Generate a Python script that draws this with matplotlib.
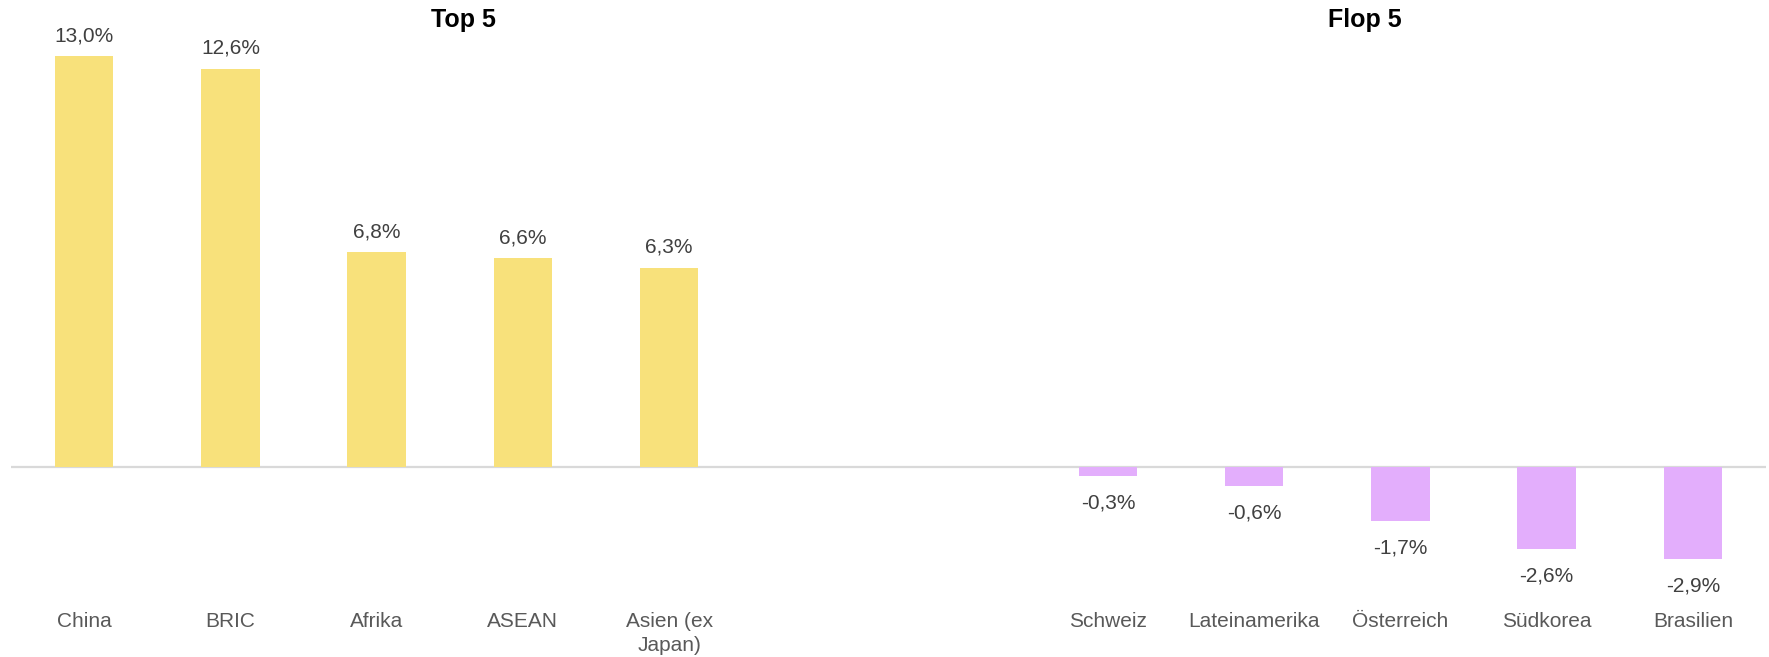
import matplotlib
matplotlib.use("Agg")
import matplotlib.pyplot as plt
import numpy as np

plt.rcParams["font.family"] = ["Liberation Sans", "DejaVu Sans"]

TOP_NAMES = ["China", "BRIC", "Afrika", "ASEAN", "Asien (ex\nJapan)"]
TOP_VALUES = [13.0, 12.6, 6.8, 6.6, 6.3]
FLOP_NAMES = ["Schweiz", "Lateinamerika", "Österreich", "Südkorea", "Brasilien"]
FLOP_VALUES = [-0.3, -0.6, -1.7, -2.6, -2.9]

YELLOW = "#f8e17b"
PURPLE = "#e3aefc"

W, H = 1769, 657
ZERO_PX = 467      # zero line, pixels from top
PX_PER_UNIT = 31.6
AX_BOTTOM_PX = 600


def fmt(v):
    return f"{v:.1f}%".replace(".", ",")


def main():
    fig = plt.figure(figsize=(W / 100, H / 100), dpi=100)
    ax = fig.add_axes([11 / W, (H - AX_BOTTOM_PX) / H, 1755 / W, AX_BOTTOM_PX / H])

    top_x = np.arange(5)
    flop_x = np.arange(7, 12)
    ax.bar(top_x, TOP_VALUES, width=0.4, color=YELLOW)
    ax.bar(flop_x, FLOP_VALUES, width=0.4, color=PURPLE)

    for x, v in zip(top_x, TOP_VALUES):
        ax.annotate(fmt(v), (x, v), xytext=(0, 8), textcoords="offset points",
                    ha="center", va="bottom", fontsize=15, color="#404040")
    for x, v in zip(flop_x, FLOP_VALUES):
        ax.annotate(fmt(v), (x, v), xytext=(0, -12.5), textcoords="offset points",
                    ha="center", va="top", fontsize=15, color="#404040")

    ax.axhline(0, color="#d9d9d9", lw=1.6, zorder=0)
    ax.set_xlim(-0.5, 11.5)
    ax.set_ylim(-(AX_BOTTOM_PX - ZERO_PX) / PX_PER_UNIT, ZERO_PX / PX_PER_UNIT)
    ax.set_xticks(list(top_x) + list(flop_x))
    ax.set_xticklabels(TOP_NAMES + FLOP_NAMES, fontsize=15, color="#595959",
                       linespacing=1.35)
    ax.tick_params(axis="x", length=0, pad=8.5)
    ax.set_yticks([])
    for s in ax.spines.values():
        s.set_visible(False)

    fig.text(463 / W, 1 - 20 / H, "Top 5", ha="center", va="center",
             fontsize=18, fontweight="bold", color="black")
    fig.text(1365 / W, 1 - 20 / H, "Flop 5", ha="center", va="center",
             fontsize=18, fontweight="bold", color="black")

    fig.savefig("out.png", dpi=100)
    plt.close(fig)


if __name__ == "__main__":
    main()
